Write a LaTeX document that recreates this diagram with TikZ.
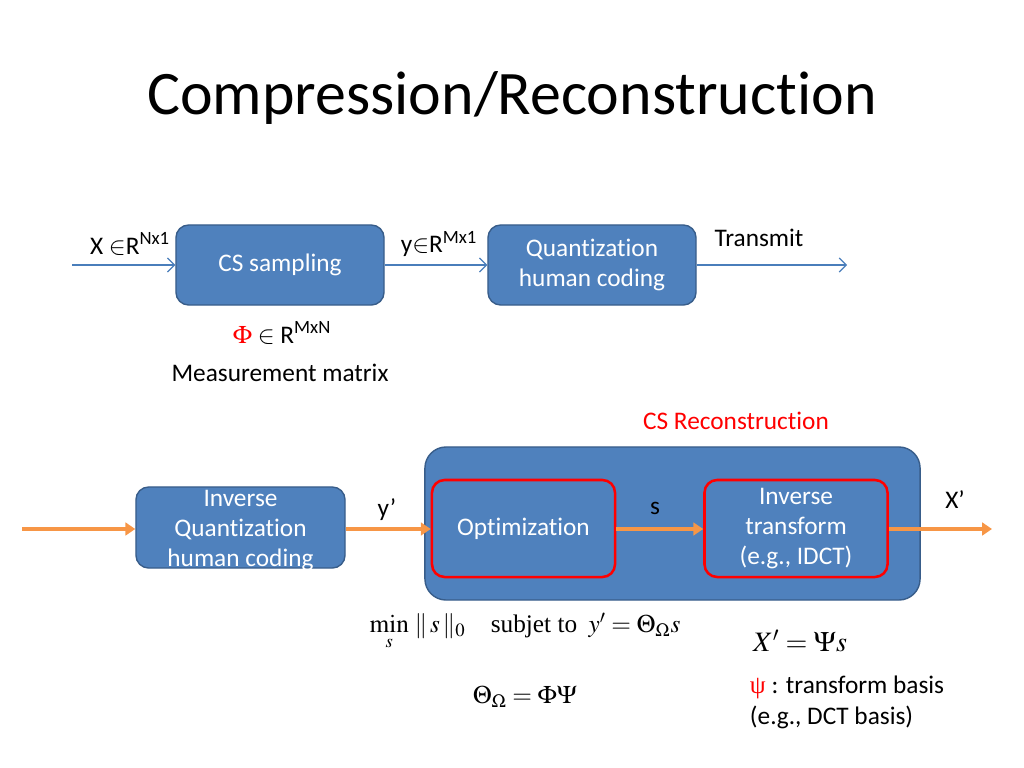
\documentclass[tikz,border=0pt]{standalone}
\usepackage{mathptmx}
\usepackage[no-math]{fontspec}
\setmainfont{Carlito}[Ligatures=NoCommon]
\newfontfamily\tms{Liberation Serif}
\usetikzlibrary{arrows.meta}

\definecolor{boxblue}{HTML}{4F81BD}
\definecolor{boxedge}{HTML}{385D8A}
\definecolor{arrowblue}{HTML}{4A7EBB}
\definecolor{orangeline}{HTML}{F79646}
\definecolor{redline}{HTML}{FF0000}

\begin{document}
\begin{tikzpicture}[x=0.025cm, y=-0.025cm, font=\fontsize{18}{21.6}\selectfont,
  bluebox/.style={draw=boxedge, fill=boxblue, line width=1pt, rounded corners=9pt, text=white, align=center, inner sep=0pt},
  redbox/.style={bluebox, draw=redline, line width=1.8pt},
  boxtext/.style={text=white, align=center, inner sep=0pt},
  thinarrow/.style={draw=arrowblue, line width=0.8pt, -{Straight Barb[length=5pt,width=10pt]}},
  fatarrow/.style={draw=orangeline, line width=2.2pt, -{Triangle[length=7pt,width=9pt]}}]

% frame
\useasboundingbox (0,0) rectangle (1024,768);

% title
\node[font=\fontsize{44}{50}\selectfont] (title) at (512,98) {Compression/Reconstruction};

% compression row
\node[bluebox, minimum width=5.2cm, minimum height=2cm] (csamp) at (280,265) {CS sampling};
\node[bluebox, minimum width=5.2cm, minimum height=2cm] (quant) at (592,265) {Quantization\\human coding};
\coordinate (xin) at (72,265);
\coordinate (xout) at (847,265);
\draw[thinarrow] (xin) -- (csamp);
\draw[thinarrow] (csamp) -- (quant);
\draw[thinarrow] (quant) -- (xout);

% lables
\node (xlab) at (130,244) {X $\in$R\textsuperscript{Nx1}};
\node (ylab) at (439,244) {y$\in$R\textsuperscript{Mx1}};
\node (tlab) at (759,238) {Transmit};
\node (philab) at (282,333) {{\tms\color{redline}$\Phi$} $\in$ R\textsuperscript{MxN}};
\node (mlab) at (280,373) {Measurement matrix};

% reconstruction
\node[text=redline] (cslab) at (736,421) {CS Reconstruction};
\node[bluebox, rounded corners=15pt, minimum width=12.375cm, minimum height=3.825cm] (recon) at (672.5,523.5) {};
\node[bluebox, minimum width=5.225cm, minimum height=2.025cm] (invq) at (240.5,527.5) {};
\node[boxtext] (invqtext) at (240.5,530.5) {Inverse\\Quantization\\human coding};
\node[redbox, minimum width=4.575cm, minimum height=2.425cm] (opt) at (523.5,528.5) {Optimization};
\node[redbox, minimum width=4.575cm, minimum height=2.425cm] (invt) at (796,528.5) {Inverse\\transform\\(e.g., IDCT)};
\coordinate (yin) at (22,529);
\coordinate (yout) at (992,529);
\draw[fatarrow] (yin) -- (invq.west |- yin);
\draw[fatarrow] (invq.east |- yin) -- (opt.west |- yin);
\draw[fatarrow] (opt.east |- yin) -- (invt.west |- yin);
\draw[fatarrow] (invt.east |- yin) -- (yout);
\node (yplab) at (387,510) {y’};
\node (slab) at (655,508) {s};
\node (xplab) at (955,500) {X’};

% formulas
\node (minf) at (525,632) {$\min\limits_{s}\,\|\,s\,\|_0$\quad {\tms subjet to}\ \ $y'=\Theta_{\Omega}s$};
\node[font=\fontsize{20}{24}\selectfont] (xf) at (800,641) {$X'=\Psi s$};
\node (thf) at (525,697) {$\Theta_{\Omega}=\Phi\Psi$};
\node[anchor=west] (psilab) at (745,687) {{\tms\color{redline}ψ} : transform basis};
\node[anchor=west] (dctlab) at (745,717) {(e.g., DCT basis)};

\end{tikzpicture}
\end{document}
